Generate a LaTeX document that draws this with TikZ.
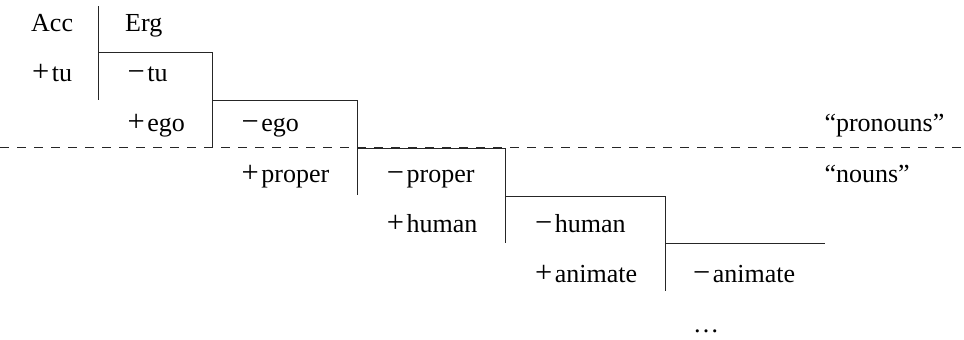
\documentclass[tikz,border=0pt]{standalone}
\usepackage{fontspec}
\setmainfont{Liberation Serif}
\newcommand{\pls}{{\fontsize{30.5}{30}\selectfont +}\kern2.5pt}
\newcommand{\mns}{{\fontsize{30.5}{30}\selectfont −}\kern2.5pt}
\begin{document}
\begin{tikzpicture}[x=1pt,y=-1pt,
  lbl/.style={anchor=base west, inner sep=0pt, font=\fontsize{26}{30}\selectfont},
  rule/.style={line width=0.9pt, black!85},
  divider/.style={line width=0.9pt, black!85, dash pattern=on 9pt off 8pt}]
\useasboundingbox (0,0) rectangle (964,340);
% labels
\node[lbl] (acc) at (31,31.7) {Acc};
\node[lbl] (erg) at (125,31.7) {Erg};
\node[lbl] (ptu) at (32,81.7) {\pls tu};
\node[lbl] (mtu) at (127.5,81.7) {\mns tu};
\node[lbl] (pego) at (127.5,131.7) {\pls ego};
\node[lbl] (mego) at (241.5,131.7) {\mns ego};
\node[lbl] (pron) at (824.3,131.7) {“pronouns”};
\node[lbl] (pprop) at (241.5,182) {\pls proper};
\node[lbl] (mprop) at (386.7,182) {\mns proper};
\node[lbl] (nouns) at (824.3,182) {“nouns”};
\node[lbl] (phum) at (386.7,232) {\pls human};
\node[lbl] (mhum) at (535,232) {\mns human};
\node[lbl] (panim) at (535,282.5) {\pls animate};
\node[lbl] (manim) at (693,282.5) {\mns animate};
\node[lbl] (dots) at (693,332) {…};
% step rules
\draw[rule] (98.7,6) -- (98.7,100);
\draw[rule] (98.7,52.7) -| (212,147);
\draw[rule] (212,100.7) -| (357.7,195);
\draw[rule] (357.7,148.3) -| (505.7,242.7);
\draw[rule] (505.7,196) -| (665.7,290.7);
\draw[rule] (665.7,243.7) -- (825,243.7);
% pronoun / noun divider
\draw[divider] (0,147) -- (964,147);
\end{tikzpicture}
\end{document}
